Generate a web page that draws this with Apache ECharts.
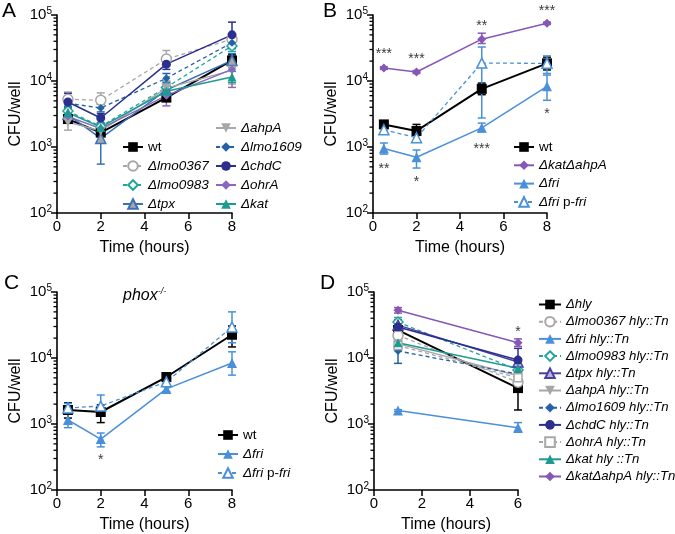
<!DOCTYPE html>
<html><head><meta charset="utf-8">
<script src="https://cdn.jsdelivr.net/npm/echarts@6/dist/echarts.min.js"></script>
<style>html,body{margin:0;padding:0;background:#fff}#c{width:675px;height:534px}</style>
</head><body><div id="c"></div>
<script>
// ---------- DATA ----------
const timesABC = [0.5, 2, 5, 8];
const timesD = [1, 6];
const yTickValues = [100, 1000, 10000, 100000];
const minorTickValues = [200,300,400,500,600,700,800,900,2000,3000,4000,5000,6000,7000,8000,9000,20000,30000,40000,50000,60000,70000,80000,90000];

// Panel A  rows: [mean, low, high] for each time point
const aWt      = [[2650,2300,3100],[1650,1450,1900],[5600,5000,6300],[20500,16500,25000]];
const aLmo0367 = [[5300,4300,6800],[5100,4400,6600],[21500,17000,29000],[43000,36000,52000]];
const aLmo0983 = [[3500,3000,4100],[2050,1800,2300],[8000,6500,9800],[34000,28000,40000]];
const aTpx     = [[3100,2600,3700],[1350,550,2100],[7300,5500,9500],[20500,16000,26000]];
const aAhpA    = [[2400,1800,3200],[1750,1500,2050],[7800,6000,10000],[14500,9000,22000]];
const aLmo1609 = [[4600,4000,5300],[3900,3400,4500],[11000,9000,13000],[38000,31000,46000]];
const aChdC    = [[4800,3800,6500],[2750,2300,3200],[18000,15000,22000],[50000,35000,78000]];
const aOhrA    = [[2900,2300,3500],[1900,1700,2150],[6000,4200,7500],[15000,8000,20000]];
const aKat     = [[3300,2900,3800],[2000,1800,2250],[7000,6000,8200],[11500,9500,14000]];

// Panel B
const bWt      = [[2200,2000,2400],[1750,1500,2200],[7600,6200,9300],[18500,14700,23000]];
const bKatAhpA = [[15700,15000,16400],[13700,13000,14400],[43000,37000,53000],[75000,72000,78000]];
const bFri     = [[950,780,1150],[700,480,900],[1950,1700,2300],[8300,5100,12300]];
const bFriPFri = [[1830,1650,2000],[1380,1200,1600],[18700,2750,32700],[18500,13000,24000]];
const bStars   = [[0.5,29500,'***'],[2,24700,'***'],[5,78000,'**'],[8,132000,'***'],[0.5,533,'**'],[2,340,'*'],[5,1070,'***'],[8,3600,'*']];

// Panel C
const cWt      = [[1630,1230,2100],[1520,1050,1950],[5150,4700,5600],[22500,14700,30500]];
const cFri     = [[1150,880,1500],[590,450,730],[3400,3100,3700],[8400,5500,12400]];
const cFriPFri = [[1750,1500,2050],[1870,1500,2750],[4350,4000,4700],[29500,17000,50000]];
const cStars   = [[2,327,'*']];

// Panel D
const dHly      = [[26500,18800,38000],[3500,1630,5500]];
const dLmo0367  = [[22000,18000,26000],[4300,3700,5000]];
const dFri      = [[1600,1550,1650],[880,750,1050]];
const dLmo0983  = [[35000,30000,41000],[6600,5800,7500]];
const dTpx      = [[31500,27000,37000],[8700,7800,9800]];
const dAhpA     = [[16500,14000,19000],[5400,4800,6000]];
const dLmo1609  = [[12800,8300,17500],[5700,5000,6400]];
const dChdC     = [[29500,22000,38000],[9300,5500,14000]];
const dOhrA     = [[15500,13000,18000],[5000,4400,5700]];
const dKat      = [[17000,14500,20000],[7000,6000,8000]];
const dKatAhpA  = [[53000,48000,58000],[17000,15000,19500]];
const dStars    = [[6,28500,'*']];

// ---------- STYLES ----------
const FONT = 'Liberation Sans, Arial, Helvetica, sans-serif';
const GREY = '#a7a7a7', TEAL = '#23a59b', BLUE = '#3b70b8', DBLUE = '#2462a8', NAVY = '#2b2f8d',
      PURPLE = '#8a68c0', KTEAL = '#1c9c90', KPURP = '#8757b6', LBLUE = '#4a90d9', INDIGO = '#4b3f9f';
const DOWN_TRI = 'path://M0,0L2,0L1,1.8Z';
const S = {
  wt:      {c:'#000', sym:'rect', size:10, fill:'#000', dash:false, w:2},
  lmo0367: {c:GREY, sym:'circle', size:10, fill:'#fff', dash:true, w:1.3},
  lmo0983: {c:TEAL, sym:'diamond', size:10, fill:'#fff', dash:true, w:1.3},
  tpx:     {c:BLUE, sym:'triangle', size:10, fill:GREY, dash:false, w:1.5},
  ahpA:    {c:GREY, sym:DOWN_TRI, size:[10,9], fill:GREY, dash:false, w:1.5},
  lmo1609: {c:DBLUE, sym:'diamond', size:8, fill:DBLUE, dash:true, w:1.3},
  chdC:    {c:NAVY, sym:'circle', size:9, fill:NAVY, dash:false, w:1.5},
  ohrA:    {c:PURPLE, sym:'diamond', size:8, fill:PURPLE, dash:false, w:1.5},
  kat:     {c:KTEAL, sym:'triangle', size:9, fill:KTEAL, dash:false, w:1.5},
  katAhpA: {c:KPURP, sym:'diamond', size:9, fill:KPURP, dash:false, w:1.5},
  fri:     {c:LBLUE, sym:'triangle', size:10, fill:LBLUE, dash:false, w:1.5},
  friP:    {c:LBLUE, sym:'triangle', size:10, fill:'#fff', dash:true, w:1.3},
  tpxD:    {c:INDIGO, sym:'triangle', size:10, fill:'#b9b3e0', dash:false, w:1.5},
  ohrAD:   {c:GREY, sym:'rect', size:8, fill:'#fff', dash:true, w:1.3}
};

const series = [];
const legendNames = {A1:[],A2:[],B:[],C:[],D:[]};

// minor (2..9) log ticks: y from the log axis scale; the axis-line x is found from
// two non-zero x positions on the value axis (extrapolated back to x = 0)
function minorTickChildren(api){
  const x0 = api.value(0);
  const out = [];
  minorTickValues.forEach(v => {
    const pA = api.coord([x0, v]);
    const pB = api.coord([x0 + 1, v]);
    const ax = pA[0] - x0 * (pB[0] - pA[0]);
    const y = pA[1];
    if (isFinite(ax) && isFinite(y)) {
      out.push({type:'line', shape:{x1:ax-3.5, y1:y, x2:ax, y2:y}, style:{stroke:'#000', lineWidth:1.3}});
    }
  });
  return out;
}

function addSeries(panel, gi, legendKey, label, times, rows, st, withMinor) {
  const name = panel + '|' + label;
  legendNames[legendKey].push(name);
  series.push({
    type:'custom', xAxisIndex:gi, yAxisIndex:gi, silent:true, z:2, clip:false,
    data: times.map((t,i)=>[t, rows[i][1], rows[i][2]]),
    encode:{x:0, y:[1,2]},
    renderItem(params, api){
      const x = api.value(0);
      const lo = api.coord([x, api.value(1)]);
      const hi = api.coord([x, api.value(2)]);
      const w = 4, sty = {stroke: st.c, lineWidth: 1.5};
      const children = [
        {type:'line', shape:{x1:lo[0],y1:lo[1],x2:hi[0],y2:hi[1]}, style:sty},
        {type:'line', shape:{x1:hi[0]-w,y1:hi[1],x2:hi[0]+w,y2:hi[1]}, style:sty},
        {type:'line', shape:{x1:lo[0]-w,y1:lo[1],x2:lo[0]+w,y2:lo[1]}, style:sty}
      ];
      if (withMinor && params.dataIndexInside === 0) {
        minorTickChildren(api).forEach(c => children.push(c));
      }
      return {type:'group', children};
    }
  });
  series.push({
    type:'line', name, xAxisIndex:gi, yAxisIndex:gi, z:3,
    data: times.map((t,i)=>[t, rows[i][0]]),
    symbol: st.sym, symbolSize: st.size, showSymbol:true,
    itemStyle:{color: st.fill, borderColor: st.c, borderWidth: st.fill === st.c ? 0 : 1.5},
    lineStyle:{color: st.c, width: st.w, type: st.dash ? [4,3] : 'solid'},
    emphasis:{disabled:true}, silent:true
  });
}

function addStars(gi, stars){
  series.push({
    type:'scatter', xAxisIndex:gi, yAxisIndex:gi, silent:true, clip:false, z:5,
    symbolSize:1, itemStyle:{color:'rgba(0,0,0,0)'},
    data: stars.map(s=>({value:[s[0], s[1]], label:{formatter:s[2]}})),
    label:{show:true, position:'inside', color:'#000', fontSize:14, fontFamily:FONT, offset:[0,4]}
  });
}

// Panel A (grid 0)
addSeries('A',0,'A1','wt',timesABC,aWt,S.wt,true);
addSeries('A',0,'A1','Δlmo0367',timesABC,aLmo0367,S.lmo0367);
addSeries('A',0,'A1','Δlmo0983',timesABC,aLmo0983,S.lmo0983);
addSeries('A',0,'A1','Δtpx',timesABC,aTpx,S.tpx);
addSeries('A',0,'A2','ΔahpA',timesABC,aAhpA,S.ahpA);
addSeries('A',0,'A2','Δlmo1609',timesABC,aLmo1609,S.lmo1609);
addSeries('A',0,'A2','ΔchdC',timesABC,aChdC,S.chdC);
addSeries('A',0,'A2','ΔohrA',timesABC,aOhrA,S.ohrA);
addSeries('A',0,'A2','Δkat',timesABC,aKat,S.kat);
// Panel B (grid 1)
addSeries('B',1,'B','wt',timesABC,bWt,S.wt,true);
addSeries('B',1,'B','ΔkatΔahpA',timesABC,bKatAhpA,S.katAhpA);
addSeries('B',1,'B','Δfri',timesABC,bFri,S.fri);
addSeries('B',1,'B','Δfri p-fri',timesABC,bFriPFri,S.friP);
addStars(1, bStars);
// Panel C (grid 2)
addSeries('C',2,'C','wt',timesABC,cWt,S.wt,true);
addSeries('C',2,'C','Δfri',timesABC,cFri,S.fri);
addSeries('C',2,'C','Δfri p-fri',timesABC,cFriPFri,S.friP);
addStars(2, cStars);
// Panel D (grid 3)
addSeries('D',3,'D','Δhly',timesD,dHly,S.wt,true);
addSeries('D',3,'D','Δlmo0367 hly::Tn',timesD,dLmo0367,S.lmo0367);
addSeries('D',3,'D','Δfri hly::Tn',timesD,dFri,S.fri);
addSeries('D',3,'D','Δlmo0983 hly::Tn',timesD,dLmo0983,S.lmo0983);
addSeries('D',3,'D','Δtpx hly::Tn',timesD,dTpx,S.tpxD);
addSeries('D',3,'D','ΔahpA hly::Tn',timesD,dAhpA,S.ahpA);
addSeries('D',3,'D','Δlmo1609 hly::Tn',timesD,dLmo1609,S.lmo1609);
addSeries('D',3,'D','ΔchdC hly::Tn',timesD,dChdC,S.chdC);
addSeries('D',3,'D','ΔohrA hly::Tn',timesD,dOhrA,S.ohrAD);
addSeries('D',3,'D','Δkat hly ::Tn',timesD,dKat,S.kat);
addSeries('D',3,'D','ΔkatΔahpA hly::Tn',timesD,dKatAhpA,S.katAhpA);
addStars(3, dStars);

// ---------- AXES ----------
const grids = [
  {left:57, top:15, width:175, height:198},
  {left:373, top:15, width:174, height:198},
  {left:57, top:292, width:175, height:198},
  {left:374, top:292, width:144, height:198}
];
const xMax = [8, 8, 8, 6];
const xAxes = grids.map((g,i)=>({
  type:'value', gridIndex:i, min:0, max:xMax[i], interval:2,
  axisLine:{show:true, onZero:false, lineStyle:{color:'#000', width:1.6}},
  axisTick:{show:true, length:6, lineStyle:{color:'#000', width:1.5}},
  axisLabel:{color:'#000', fontSize:15, fontFamily:FONT, margin:6},
  splitLine:{show:false},
  name:'Time (hours)', nameLocation:'middle', nameGap:27,
  nameTextStyle:{color:'#000', fontSize:16, fontFamily:FONT, fontWeight:400}
}));
const yAxes = grids.map((g,i)=>({
  type:'log', logBase:10, gridIndex:i, min:yTickValues[0], max:yTickValues[yTickValues.length-1],
  axisLine:{show:true, lineStyle:{color:'#000', width:1.6}},
  axisTick:{show:true, length:6, lineStyle:{color:'#000', width:1.5}},
  axisLabel:{
    formatter: v => '{b|10}{s|' + Math.round(Math.log10(v)) + '}',
    margin:5,
    rich:{
      b:{fontSize:15, fontFamily:FONT, color:'#000', lineHeight:17, verticalAlign:'middle'},
      s:{fontSize:10, fontFamily:FONT, color:'#000', lineHeight:10, verticalAlign:'top'}
    }
  },
  splitLine:{show:false}, minorTick:{show:false},
  name:'CFU/well', nameLocation:'middle', nameGap:33,
  nameTextStyle:{color:'#000', fontSize:16, fontFamily:FONT, fontWeight:400}
}));

// ---------- LEGENDS ----------
function legendLabel(full){
  const label = full.split('|')[1];
  if (label === 'wt') return '{n|wt}';
  if (label === 'Δfri p-fri') return '{i|Δfri} {n|p-}{i|fri}';
  return '{i|' + label + '}';
}
function richFor(fs){
  return {
    n:{fontSize:fs, fontFamily:FONT, color:'#000', lineHeight:14},
    i:{fontSize:fs, fontFamily:FONT, color:'#000', lineHeight:14, fontStyle:'italic'}
  };
}
function mkLegend(key, left, top, itemWidth, textGap, gap, fs){
  return {
    data: legendNames[key], left, top, orient:'vertical', padding:0,
    itemWidth, itemHeight:12, itemGap:gap, itemTextGap:textGap, selectedMode:false,
    formatter: legendLabel, textStyle:{rich:richFor(fs), fontSize:fs, fontFamily:FONT, color:'#000'}
  };
}
const legends = [
  mkLegend('A1', 122, 140, 20, 6, 5, 13.5),
  mkLegend('A2', 215, 121, 20, 7, 5, 13.5),
  mkLegend('B', 513, 140, 20, 7, 4.3, 13.5),
  mkLegend('C', 217, 428, 20, 4, 5, 13.5),
  mkLegend('D', 538, 298, 22, 2, 4.2, 13.2)
];

// ---------- TEXT ----------
const letterStyle = {fill:'#000', fontSize:21, fontFamily:FONT};
const graphics = [
  {type:'text', left:2, top:1, style:Object.assign({text:'A'}, letterStyle)},
  {type:'text', left:323, top:1, style:Object.assign({text:'B'}, letterStyle)},
  {type:'text', left:4, top:273, style:Object.assign({text:'C'}, letterStyle)},
  {type:'text', left:320, top:273, style:Object.assign({text:'D'}, letterStyle)},
  {type:'text', left:123, top:287, style:{text:'{i|phox}{s|-/-}', fill:'#000', rich:{
    i:{fontSize:16, fontFamily:FONT, fontStyle:'italic', color:'#000', lineHeight:18, verticalAlign:'middle'},
    s:{fontSize:9, fontFamily:FONT, fontStyle:'italic', color:'#000', lineHeight:9, verticalAlign:'top'}
  }}}
];

const chart = echarts.init(document.getElementById('c'), null, {renderer:'canvas'});
chart.setOption({
  animation:false, backgroundColor:'#fff',
  grid: grids, xAxis: xAxes, yAxis: yAxes, legend: legends, series, graphic: graphics
});
</script></body></html>
